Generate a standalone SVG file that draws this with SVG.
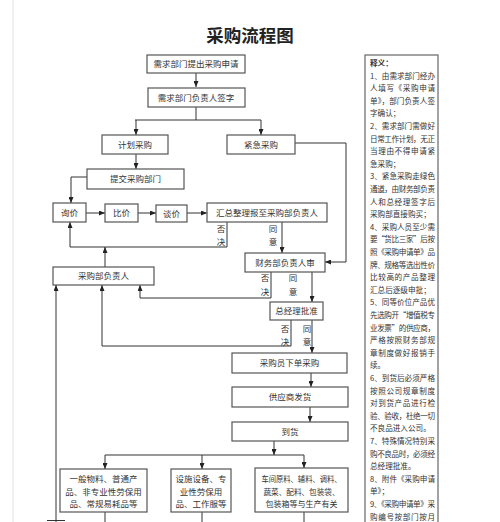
<svg xmlns="http://www.w3.org/2000/svg" width="500" height="522" viewBox="0 0 500 522">
<style>
.box{fill:#fff;stroke:#555;stroke-width:1.2}
.t{font-family:"Noto Sans CJK SC","Liberation Serif",serif;font-size:8.5px;fill:#333;text-anchor:middle}
.lb{font-family:"Noto Sans CJK SC","Liberation Serif",serif;font-size:8.5px;fill:#333;text-anchor:middle}
.p{font-family:"Noto Sans CJK SC","Liberation Serif",serif;font-size:7.6px;fill:#333}
.c{fill:none;stroke:#333;stroke-width:1}
</style>
<defs>
<marker id="ah" markerWidth="6" markerHeight="5" refX="6" refY="2.5" orient="auto" markerUnits="userSpaceOnUse">
<path d="M0,0 L6,2.5 L0,5 z" fill="#222"/>
</marker>
</defs>
<rect x="0" y="0" width="500" height="522" fill="#fff"/>
<line x1="13" y1="0" x2="13" y2="522" stroke="#e2e2e2" stroke-width="1"/>
<text x="250" y="42" font-family="Noto Sans CJK SC, sans-serif" font-size="17.5" font-weight="bold" fill="#222" text-anchor="middle">采购流程图</text>

<g id="connectors">
<path class="c" d="M196,73 V87" marker-end="url(#ah)"/>
<path class="c" d="M196,107 V120 M135,120 H261"/>
<path class="c" d="M136,120 V135" marker-end="url(#ah)"/>
<path class="c" d="M261,120 V135" marker-end="url(#ah)"/>
<path class="c" d="M295,143 H346 V262 H325" marker-end="url(#ah)"/>
<path class="c" d="M136,154 V169" marker-end="url(#ah)"/>
<path class="c" d="M87,177 H71 V203" marker-end="url(#ah)"/>
<path class="c" d="M86,213 H105" marker-end="url(#ah)"/>
<path class="c" d="M138,213 H156" marker-end="url(#ah)"/>
<path class="c" d="M187,213 H207" marker-end="url(#ah)"/>
<path class="c" d="M227,222 V247 H70 V222" marker-end="url(#ah)"/>
<path class="c" d="M105,267 V247" marker-end="url(#ah)"/>
<path class="c" d="M282,222 V253" marker-end="url(#ah)"/>
<path class="c" d="M271,272 V298 H140 V285" marker-end="url(#ah)"/>
<path class="c" d="M312,272 V302" marker-end="url(#ah)"/>
<path class="c" d="M291,320 V346 H102 V285" marker-end="url(#ah)"/>
<path class="c" d="M312,320 V353" marker-end="url(#ah)"/>
<path class="c" d="M311,373 V387" marker-end="url(#ah)"/>
<path class="c" d="M310,407 V422" marker-end="url(#ah)"/>
<path class="c" d="M274,441 V455" marker-end="url(#ah)"/>
<path class="c" d="M105,455 H304"/>
<path class="c" d="M105,455 V469" marker-end="url(#ah)"/>
<path class="c" d="M202,455 V469" marker-end="url(#ah)"/>
<path class="c" d="M304,455 V468" marker-end="url(#ah)"/>
<path class="c" d="M105,512 V522 M202,512 V522 M304,512 V522"/>
<path class="c" d="M56,522 V285" marker-end="url(#ah)"/>
<path class="c" d="M47,520.5 H65"/>
<text class="lb" x="221" y="232">否<tspan x="221" y="245">决</tspan></text>
<text class="lb" x="273" y="232">同<tspan x="273" y="245">意</tspan></text>
<text class="lb" x="265" y="281">否<tspan x="265" y="295">决</tspan></text>
<text class="lb" x="293" y="281">同<tspan x="293" y="295">意</tspan></text>
<text class="lb" x="285" y="332">否<tspan x="285" y="345">决</tspan></text>
<text class="lb" x="307" y="332">同<tspan x="307" y="345">意</tspan></text>
</g>

<g id="n1"><rect class="box" x="147" y="55" width="98" height="18"/><text class="t" x="196" y="67">需求部门提出采购申请</text></g>
<g id="n2"><rect class="box" x="148" y="88" width="97" height="19"/><text class="t" x="196" y="100.5">需求部门负责人签字</text></g>
<g id="n3"><rect class="box" x="102" y="135" width="66" height="19"/><text class="t" x="135" y="147.5">计划采购</text></g>
<g id="n4"><rect class="box" x="227" y="135" width="68" height="19"/><text class="t" x="261" y="147.5">紧急采购</text></g>
<g id="n5"><rect class="box" x="87" y="169" width="97" height="20"/><text class="t" x="135.5" y="182">提交采购部门</text></g>
<g id="n6"><rect class="box" x="53" y="203" width="33" height="19"/><text class="t" x="69.5" y="215.5">询价</text></g>
<g id="n7"><rect class="box" x="105" y="204" width="33" height="18"/><text class="t" x="121.5" y="216">比价</text></g>
<g id="n8"><rect class="box" x="156" y="205" width="31" height="17"/><text class="t" x="171.5" y="216.5">谈价</text></g>
<g id="n9"><rect class="box" x="207" y="203" width="120" height="19"/><text class="t" x="267" y="215.5">汇总整理报至采购部负责人</text></g>
<g id="n10"><rect class="box" x="245" y="253" width="80" height="19"/><text class="t" x="285" y="265.5">财务部负责人审</text></g>
<g id="n11"><rect class="box" x="53" y="267" width="101" height="18"/><text class="t" x="103.5" y="279">采购部负责人</text></g>
<g id="n12"><rect class="box" x="270" y="302" width="53" height="18"/><text class="t" x="296.5" y="314">总经理批准</text></g>
<g id="n13"><rect class="box" x="232" y="353" width="115" height="20"/><text class="t" x="289.5" y="366">采购员下单采购</text></g>
<g id="n14"><rect class="box" x="232" y="387" width="116" height="20"/><text class="t" x="290" y="400">供应商发货</text></g>
<g id="n15"><rect class="box" x="232" y="422" width="116" height="19"/><text class="t" x="290" y="434.5">到货</text></g>
<g id="n16"><rect class="box" x="60" y="469" width="87" height="43"/>
<text class="t" x="103.5" y="482">一般物料、普通产</text>
<text class="t" x="103.5" y="495">品、非专业性劳保用</text>
<text class="t" x="103.5" y="507">品、常规易耗品等</text></g>
<g id="n17"><rect class="box" x="171" y="469" width="60" height="43"/>
<text class="t" x="201" y="482">设施设备、专</text>
<text class="t" x="201" y="495">业性劳保用</text>
<text class="t" x="201" y="507">品、工作服等</text></g>
<g id="n18"><rect class="box" x="255" y="468" width="93" height="44"/>
<text class="t" x="301.5" y="482" textLength="80" lengthAdjust="spacingAndGlyphs">车间原料、辅料、调料、</text>
<text class="t" x="301.5" y="495" textLength="76" lengthAdjust="spacingAndGlyphs">蔬菜、配料、包装袋、</text>
<text class="t" x="301.5" y="507" textLength="72" lengthAdjust="spacingAndGlyphs">包装箱等与生产有关</text></g>

<g id="notes">
<rect x="365" y="55" width="73" height="480" fill="#fff" stroke="#666" stroke-width="1.2"/>
<text class="p" x="370" y="66" font-weight="bold">释义：</text>
<text class="p" x="370" y="78.6" textLength="65">1、由需求部门经办</text>
<text class="p" x="370" y="91.2" textLength="65">人填写《采购申请</text>
<text class="p" x="370" y="103.8" textLength="65">单》，部门负责人签</text>
<text class="p" x="370" y="116.4">字确认；</text>
<text class="p" x="370" y="129" textLength="65">2、需求部门需做好</text>
<text class="p" x="370" y="141.6" textLength="65">日常工作计划，无正</text>
<text class="p" x="370" y="154.2" textLength="65">当理由不得申请紧</text>
<text class="p" x="370" y="166.8">急采购；</text>
<text class="p" x="370" y="179.4" textLength="65">3、紧急采购走绿色</text>
<text class="p" x="370" y="192" textLength="65">通道，由财务部负责</text>
<text class="p" x="370" y="204.6" textLength="65">人和总经理签字后</text>
<text class="p" x="370" y="217.2">采购部直接购买；</text>
<text class="p" x="370" y="229.8" textLength="65">4、采购人员至少需</text>
<text class="p" x="370" y="242.4" textLength="65">要“货比三家”后按</text>
<text class="p" x="370" y="255" textLength="65">照《采购申请单》品</text>
<text class="p" x="370" y="267.6" textLength="65">牌、规格等选出性价</text>
<text class="p" x="370" y="280.2" textLength="65">比较高的产品整理</text>
<text class="p" x="370" y="292.8">汇总后逐级申批；</text>
<text class="p" x="370" y="305.4" textLength="65">5、同等价位产品优</text>
<text class="p" x="370" y="318" textLength="65">先选购开“增值税专</text>
<text class="p" x="370" y="330.6" textLength="65">业发票”的供应商，</text>
<text class="p" x="370" y="343.2" textLength="65">严格按照财务部规</text>
<text class="p" x="370" y="355.8" textLength="65">章制度做好报销手</text>
<text class="p" x="370" y="368.4">续。</text>
<text class="p" x="370" y="381" textLength="65">6、到货后必须严格</text>
<text class="p" x="370" y="393.6" textLength="65">按照公司规章制度</text>
<text class="p" x="370" y="406.2" textLength="65">对到货产品进行检</text>
<text class="p" x="370" y="418.8" textLength="65">验、验收，杜绝一切</text>
<text class="p" x="370" y="431.4">不良品进入公司。</text>
<text class="p" x="370" y="444" textLength="65">7、特殊情况特别采</text>
<text class="p" x="370" y="456.6" textLength="65">购不良品时，必须经</text>
<text class="p" x="370" y="469.2">总经理批准。</text>
<text class="p" x="370" y="481.8" textLength="65">8、附件《采购申请</text>
<text class="p" x="370" y="494.4">单》；</text>
<text class="p" x="370" y="507" textLength="65">9、《采购申请单》采</text>
<text class="p" x="370" y="519.6" textLength="65">购编号按部门按月</text>
</g>
</svg>
